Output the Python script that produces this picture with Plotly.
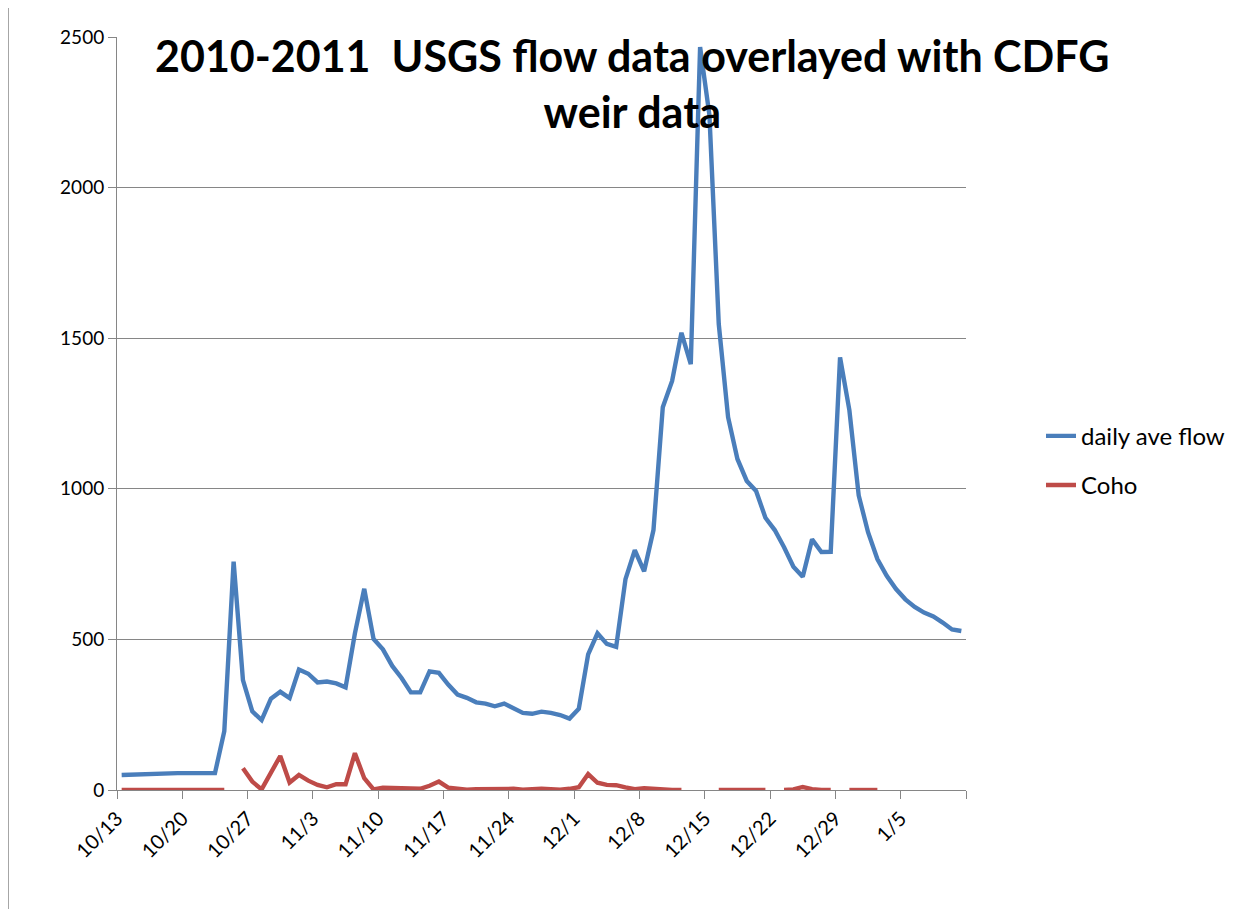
import pandas as pd
import plotly.graph_objects as go

# ---- data -----------------------------------------------------------
dates = pd.date_range("2010-10-13", periods=91, freq="D")

daily_ave_flow = [
    50, 51, 55, 56, 56, 56, 56, 56, 56, 56,
    56, 195, 758, 365, 261, 232, 303, 326, 305, 400,
    386, 357, 360, 354, 341, 520, 668, 501, 467, 412,
    372, 324, 324, 394, 389, 350, 317, 306, 291, 287,
    278, 287, 270, 256, 253, 260, 256, 249, 237, 270,
    450, 520, 485, 475, 700, 796, 726, 863, 1271, 1358,
    1518, 1414, 2467, 2240, 1547, 1238, 1099, 1026, 993, 904,
    863, 806, 741, 708, 832, 790, 791, 1436, 1261, 978,
    856, 767, 711, 667, 633, 608, 589, 576, 556, 533,
    528,
]

coho = [
    0, 0, 0, 0, 0, 0, 0, 0, 0, 0,
    0, 0, None, 72, 28, 2, 55, 113, 25, 50,
    31, 17, 9, 19, 19, 122, 39, 2, 8, 7,
    6, 4, 4, 14, 28, 8, 3, 1, 3, 4,
    4, 4, 4, 1, 3, 4, 3, 1, 4, 9,
    53, 24, 17, 16, 9, 3, 6, 3, 0, 0,
    0, None, None, None, 0, 0, 0, 0, 0, 0,
    None, 0, 2, 10, 3, 0, 0, None, 0, 0,
    0, 0, None, None, None, None, None, None, None, None,
    None,
]

x_tick_dates = ["2010-10-13", "2010-10-20", "2010-10-27", "2010-11-03",
                "2010-11-10", "2010-11-17", "2010-11-24", "2010-12-01",
                "2010-12-08", "2010-12-15", "2010-12-22", "2010-12-29",
                "2011-01-05", "2011-01-12"]
x_tick_labels = ["10/13", "10/20", "10/27", "11/3", "11/10", "11/17", "11/24",
                 "12/1", "12/8", "12/15", "12/22", "12/29", "1/5", ""]
y_ticks = [0, 500, 1000, 1500, 2000, 2500]
title_lines = ["2010-2011\u00a0 USGS flow data overlayed with CDFG", "weir data"]
series_names = ["daily ave flow", "Coho"]
series_colors = ["#4A7EBB", "#BE4B48"]

# ---- figure ---------------------------------------------------------
# page has an 8px body margin; work in page pixels and convert
OFF = 8
W, H = 1245, 901
PL, PT, PR, PB = 117, 37, 966, 790.5   # plot area in page pixels
L = PL - OFF
T = PT - OFF
pw = PR - PL
ph = PB - PT
R = W - L - pw
B = H - T - ph

fig = go.Figure()
for name, vals, col in zip(series_names, [daily_ave_flow, coho], series_colors):
    fig.add_trace(go.Scatter(
        x=dates, y=vals, name=name, mode="lines",
        xperiod=86400000, xperiodalignment="middle",
        line=dict(color=col, width=4.4), connectgaps=False,
        legendgroup=name,
    ))


def px_x(x):
    return (x - PL) / pw


def px_y(y):
    return (PB - y) / ph


fig.update_layout(
    width=W, height=H,
    margin=dict(l=L, r=R, t=T, b=B, pad=0),
    paper_bgcolor="white", plot_bgcolor="white",
    font=dict(family="Lato", color="black", size=19),
    showlegend=True,
    legend=dict(
        x=px_x(1041), y=px_y(414), xanchor="left", yanchor="top",
        font=dict(size=24, family="Lato"),
        tracegroupgap=15, traceorder="grouped",
        bgcolor="rgba(0,0,0,0)",
    ),
    xaxis=dict(
        type="date",
        range=["2010-10-13", "2011-01-12"],
        tickvals=x_tick_dates, ticktext=x_tick_labels, tickangle=-45,
        ticks="outside", ticklen=8, tickcolor="#868686", tickwidth=1,
        showline=True, linecolor="#868686", linewidth=1,
        showgrid=False, zeroline=False,
        tickfont=dict(size=20),
    ),
    yaxis=dict(
        range=[0, 2500], tickvals=y_ticks,
        ticks="outside", ticklen=8, tickcolor="#868686", tickwidth=1,
        showline=True, linecolor="#868686", linewidth=1,
        showgrid=True, gridcolor="#868686", gridwidth=1,
        zeroline=False, tickfont=dict(size=19),
    ),
    annotations=[dict(
        text="<b>" + "<br>".join(title_lines) + "</b>",
        xref="paper", yref="paper", x=px_x(632), y=px_y(84),
        xanchor="center", yanchor="middle", showarrow=False,
        font=dict(family="Lato", size=43, color="black"),
    )],
    shapes=[dict(
        type="line", xref="paper", yref="paper",
        x0=px_x(8), x1=px_x(8), y0=px_y(0), y1=px_y(920),
        line=dict(color="#A6A6A6", width=2),
    )],
)

fig.write_html("out.html")
